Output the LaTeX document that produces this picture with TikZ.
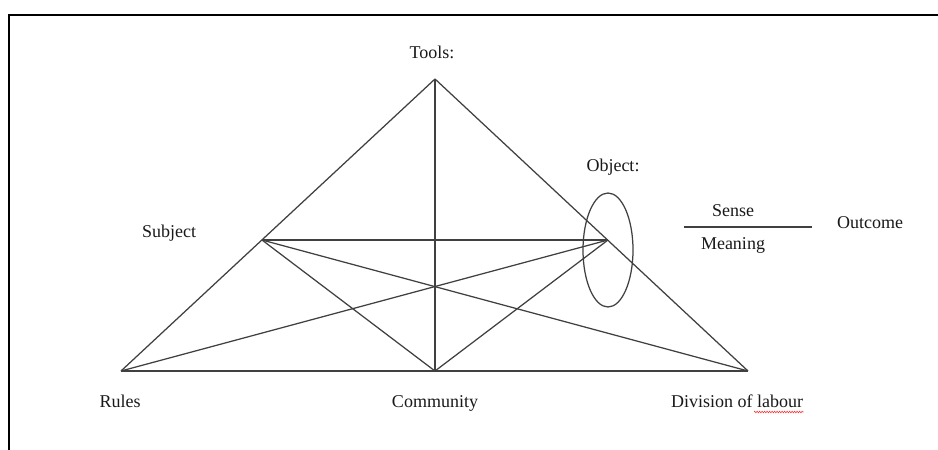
\documentclass[tikz,border=0pt]{standalone}
\usepackage{fontspec}
\setmainfont{Liberation Serif}
\usetikzlibrary{positioning}
\usetikzlibrary{decorations.pathmorphing}

\begin{document}
\begin{tikzpicture}[x=1pt,y=-1pt,line width=1.25pt,
		label/.style={font=\fontsize{18}{21}\selectfont,text=black!90,inner sep=0pt},
		edge/.style={draw=black!75}]
		\useasboundingbox (0,0) rectangle (938,450);
		\draw[line width=1.8pt] (9,450) -- (9,15) -- (938,15);
		
		\coordinate (tools)     at (435,79);
		\coordinate (rules)     at (121,371);
		\coordinate (community) at (435,371);
		\coordinate (division)  at (748,371);
		\coordinate (subject)   at (262,240);
		\coordinate (object)    at (608,240);
		
		\node[label] (ltools)   at (432,52)  {Tools:};
		\node[label] (lsubject) at (169,233) {Subject};
		\node[label] (lobject)  at (613,167) {Object:};
		\node[label] (lsense)   at (733,211) {Sense};
		\node[label] (lmeaning) [below=34pt of lsense.center,anchor=center] {Meaning};
		\node[label] (loutcome) at (870,223) {Outcome};
		\node[label,anchor=base] (lrules) at (120,407) {Rules};
		\node[label,anchor=base] (lcomm)  at (435,407) {Community};
		\node[label,anchor=base] (ldiv)   at (737,407) {Division of labour};
		
		\coordinate (s1) at (684,227);
		\coordinate (s2) at (812,227);
		\draw[edge] (s1) -- (s2);
		
		\path[edge]
		(tools) edge (rules)
		(tools) edge (division)
		(tools) edge (community)
		(rules) edge (division)
		(subject) edge (object)
		(subject) edge (division)
		(subject) edge (community)
		(object) edge (rules)
		(object) edge (community);
		
		\draw[edge] (608,250) ellipse [x radius=25pt,y radius=57pt];
		\draw[red!80,line width=0.6pt,decorate,decoration={zigzag,amplitude=0.8pt,segment length=2.5pt}]
		(754,412) -- (ldiv.south east |- 0,412);
	\end{tikzpicture}
\end{document}
